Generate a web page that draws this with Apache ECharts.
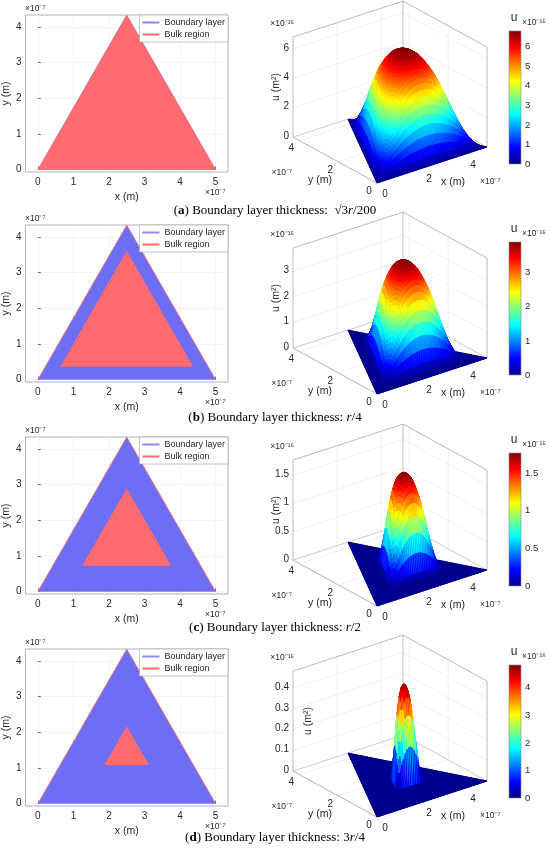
<!DOCTYPE html>
<html>
<head>
<meta charset="utf-8">
<script src="https://cdn.jsdelivr.net/npm/echarts@6.0.0/dist/echarts.min.js"></script>
<style>
html, body { margin: 0; padding: 0; background: #fff; }
#main { width: 550px; height: 852px; }
</style>
</head>
<body>
<div id="main"></div>
<script>
// all lengths in units of 1e-7 m, u in units of 1e-15 m^2
var outerTriangle = [[0, 0], [5, 0], [2.5, 4.33]];

// bulk region (inner triangle) for the four boundary layer thicknesses
var bulkA = [[0.02, 0.0125], [4.98, 0.0125], [2.5, 4.305]];
var bulkB = [[0.63, 0.36], [4.37, 0.36], [2.5, 3.61]];
var bulkC = [[1.25, 0.72], [3.75, 0.72], [2.5, 2.886]];
var bulkD = [[1.875, 1.08], [3.125, 1.08], [2.5, 2.165]];

// u read from the surfaces, from the bulk edge (level 0) to the centre (level 1), step 0.1
var profileA = [0, 0.6, 1.3, 2.05, 2.85, 3.65, 4.4, 5.1, 5.7, 6.3, 6.8];
var profileB = [0, 0.34, 0.74, 1.17, 1.64, 2.1, 2.54, 2.93, 3.28, 3.63, 3.9];
var profileC = [0, 0.16, 0.34, 0.53, 0.74, 0.96, 1.15, 1.33, 1.49, 1.65, 1.77];
var profileD = [0, 0.043, 0.092, 0.145, 0.203, 0.261, 0.314, 0.362, 0.406, 0.449, 0.483];

// axis ticks
var ticks2dX = [0, 1, 2, 3, 4, 5];
var ticks2dY = [0, 1, 2, 3, 4];
var ticks3dXY = [0, 2, 4];
var zTicksA = [0, 2, 4, 6];
var zTicksB = [0, 1, 2, 3];
var zTicksC = [0, 0.5, 1, 1.5];
var zTicksD = [0, 0.1, 0.2, 0.3, 0.4];
var cbTicksA = [0, 1, 2, 3, 4, 5, 6];
var cbTicksB = [0, 1, 2, 3];
var cbTicksC = [0, 0.5, 1, 1.5];
var cbTicksD = [0, 1, 2, 3, 4];
var zTops = [6.8, 3.9, 1.77, 0.483];
var cbScale = [1, 1, 1, 10];
var cbExp = ['×10⁻¹⁵', '×10⁻¹⁵', '×10⁻¹⁵', '×10⁻¹⁶'];

var captions = [
    '({b|a}) Boundary layer thickness:  √3{i|r}/200',
    '({b|b}) Boundary layer thickness: {i|r}/4',
    '({b|c}) Boundary layer thickness: {i|r}/2',
    '({b|d}) Boundary layer thickness: 3{i|r}/4'
];

var bulks = [bulkA, bulkB, bulkC, bulkD];
var profiles = [profileA, profileB, profileC, profileD];
var zTicks = [zTicksA, zTicksB, zTicksC, zTicksD];
var cbTicks = [cbTicksA, cbTicksB, cbTicksC, cbTicksD];

// layout of the four rows
var rowTop2d = [15, 225, 437, 649];
var rowH2d = 157;
var originY = [183, 394, 606, 817];
var cbTop = [31, 242, 453, 665];
var cbH = 133;
var captionY = [211, 418, 628, 838];
var zNameDx = [-17, -17, -17, 15];

var X_MAX = 5, Y_MAX = 4.33;
var jet = ['#00008f', '#0000ff', '#0080ff', '#00ffff', '#80ff80', '#ffff00', '#ff8000', '#ff0000', '#800000'];
var FONT = "'Liberation Sans', Arial, sans-serif";
var TXT = '#262626';

// fixed view (az ~ -45, el ~ 30): ground point + normalised height -> plane of the hidden grid
function project(x, y, zn) {
    return [22 * x - 19.4 * y, 7.2 * x + 10.6 * y + 100 * zn];
}

function flat(tri) {
    return [tri[0][0], tri[0][1], tri[1][0], tri[1][1], tri[2][0], tri[2][1]];
}

// 0 on the bulk edge, 1 at its centroid
function levelAt(px, py, tri) {
    var a = tri[0], b = tri[1], c = tri[2];
    var det = (b[1] - c[1]) * (a[0] - c[0]) + (c[0] - b[0]) * (a[1] - c[1]);
    var l1 = ((b[1] - c[1]) * (px - c[0]) + (c[0] - b[0]) * (py - c[1])) / det;
    var l2 = ((c[1] - a[1]) * (px - c[0]) + (a[0] - c[0]) * (py - c[1])) / det;
    var l3 = 1 - l1 - l2;
    if (l1 <= 0 || l2 <= 0 || l3 <= 0) return 0;
    return Math.min(1, 27 * l1 * l2 * l3);
}

function lookup(profile, s) {
    var f = s * (profile.length - 1);
    var i = Math.min(Math.floor(f), profile.length - 2);
    var t = f - i;
    return profile[i] * (1 - t) + profile[i + 1] * t;
}

// mesh of the triangle, each cell [x1,y1,u1,x2,y2,u2,x3,y3,u3,uMean], far cells first
function buildSurface(bulk, profile, n) {
    var A = outerTriangle[0], B = outerTriangle[1], C = outerTriangle[2];
    function vert(i, j) {
        var x = A[0] + i / n * (B[0] - A[0]) + j / n * (C[0] - A[0]);
        var y = A[1] + i / n * (B[1] - A[1]) + j / n * (C[1] - A[1]);
        return [x, y, lookup(profile, levelAt(x, y, bulk))];
    }
    var cells = [];
    function add(p, q, r) {
        cells.push([p[0], p[1], p[2], q[0], q[1], q[2], r[0], r[1], r[2], (p[2] + q[2] + r[2]) / 3]);
    }
    for (var i = 0; i < n; i++) {
        for (var j = 0; j < n - i; j++) {
            add(vert(i, j), vert(i + 1, j), vert(i, j + 1));
            if (i + j < n - 1) add(vert(i + 1, j), vert(i + 1, j + 1), vert(i, j + 1));
        }
    }
    cells.sort(function (a, b) {
        var da = 19.4 * (a[0] + a[3] + a[6]) + 22 * (a[1] + a[4] + a[7]);
        var db = 19.4 * (b[0] + b[3] + b[6]) + 22 * (b[1] + b[4] + b[7]);
        return db - da;
    });
    return cells;
}

function renderTri(fill, stroke) {
    return function (params, api) {
        var pts = [0, 1, 2].map(function (k) {
            return api.coord([api.value(2 * k), api.value(2 * k + 1)]);
        });
        return {type: 'polygon', shape: {points: pts}, style: {fill: fill, stroke: stroke, lineWidth: 0.8}, silent: true};
    };
}

function renderSurface(p) {
    return function (params, api) {
        var pts = [];
        for (var k = 0; k < 3; k++) {
            pts.push(api.coord(project(api.value(3 * k), api.value(3 * k + 1), api.value(3 * k + 2) / zTops[p])));
        }
        var c = api.visual('color');
        // far cells come first in the data, keep them underneath
        return {
            type: 'polygon', z2: params.dataIndex, shape: {points: pts}, silent: true,
            style: {fill: c, stroke: c, lineWidth: 1, lineJoin: 'round'}
        };
    };
}

function renderFrame(p) {
    return function (params, api) {
        var zTop = zTops[p];
        function P(x, y, z) { return api.coord(project(x, y, z / zTop)); }
        function seg(a, b, color, w) {
            return {type: 'line', shape: {x1: a[0], y1: a[1], x2: b[0], y2: b[1]}, style: {stroke: color, lineWidth: w}, silent: true};
        }
        function txt(pt, dx, dy, s, align, size, rot) {
            return {
                type: 'text', x: pt[0] + dx, y: pt[1] + dy, rotation: rot || 0, silent: true,
                style: {text: s, fill: TXT, fontSize: size || 10, fontFamily: FONT, align: align || 'center', verticalAlign: 'middle'}
            };
        }
        var kids = [];
        var gc = '#e6e6e6', bc = '#a8a8a8';
        ticks3dXY.forEach(function (t) {
            if (t > 0) {
                kids.push(seg(P(t, Y_MAX, 0), P(t, Y_MAX, zTop), gc, 0.6));
                kids.push(seg(P(X_MAX, t, 0), P(X_MAX, t, zTop), gc, 0.6));
            }
            kids.push(seg(P(t, 0, 0), P(t, Y_MAX, 0), gc, 0.6));
            kids.push(seg(P(0, t, 0), P(X_MAX, t, 0), gc, 0.6));
        });
        zTicks[p].forEach(function (z) {
            if (z > 0) {
                kids.push(seg(P(0, Y_MAX, z), P(X_MAX, Y_MAX, z), gc, 0.6));
                kids.push(seg(P(X_MAX, 0, z), P(X_MAX, Y_MAX, z), gc, 0.6));
            }
        });
        // box
        kids.push(seg(P(0, Y_MAX, 0), P(0, Y_MAX, zTop), bc, 0.8));
        kids.push(seg(P(X_MAX, Y_MAX, 0), P(X_MAX, Y_MAX, zTop), bc, 0.8));
        kids.push(seg(P(X_MAX, 0, 0), P(X_MAX, 0, zTop), bc, 0.8));
        kids.push(seg(P(0, Y_MAX, zTop), P(X_MAX, Y_MAX, zTop), bc, 0.8));
        kids.push(seg(P(X_MAX, Y_MAX, zTop), P(X_MAX, 0, zTop), bc, 0.8));
        kids.push(seg(P(0, Y_MAX, 0), P(X_MAX, Y_MAX, 0), bc, 0.6));
        kids.push(seg(P(X_MAX, Y_MAX, 0), P(X_MAX, 0, 0), bc, 0.6));
        kids.push(seg(P(0, 0, 0), P(X_MAX, 0, 0), bc, 0.8));
        kids.push(seg(P(0, 0, 0), P(0, Y_MAX, 0), bc, 0.8));
        // tick labels
        ticks3dXY.forEach(function (t) {
            kids.push(txt(P(t, 0, 0), 8, 11, String(t)));
            kids.push(txt(P(0, t, 0), -8, 8, String(t)));
        });
        zTicks[p].forEach(function (z) {
            kids.push(txt(P(0, Y_MAX, z), -4, -1, String(z), 'right'));
        });
        var o = P(0, 0, 0);
        kids.push(txt(o, 76, -1, 'x (m)', 'center', 10.5));
        kids.push(txt(o, -57, -3, 'y (m)', 'center', 10.5));
        kids.push(txt(o, 103, -1, '×10⁻⁷', 'left', 8.5));
        kids.push(txt(o, -85, -10, '×10⁻⁷', 'right', 8.5));
        kids.push(txt(P(0, Y_MAX, zTop), 1, -13, '×10⁻¹⁵', 'right', 8.5));
        kids.push(txt(P(0, Y_MAX, zTop / 2), zNameDx[p], 0, 'u (m²)', 'center', 10.5, Math.PI / 2));
        return {type: 'group', children: kids};
    };
}

function renderColorbar(params, api) {
    var a = api.coord([0, 0]);
    var b = api.coord([1, api.value(1)]);
    var stops = jet.map(function (c, i) { return {offset: i / (jet.length - 1), color: c}; });
    return {
        type: 'rect', silent: true,
        shape: {x: a[0], y: b[1], width: b[0] - a[0], height: a[1] - b[1]},
        style: {fill: new echarts.graphic.LinearGradient(0, 1, 0, 0, stops), stroke: '#8c8c8c', lineWidth: 0.6}
    };
}

var grids = [], xAxes = [], yAxes = [], series = [], visualMaps = [], legends = [], graphics = [];

for (var p = 0; p < 4; p++) {
    var g2 = grids.length;
    // 2D domain plot
    grids.push({left: 23.5, top: rowTop2d[p], width: 204.5, height: rowH2d, show: true, borderColor: '#a0a0a0', borderWidth: 0.8, backgroundColor: '#fff'});
    xAxes.push({
        gridIndex: g2, type: 'value', min: -0.35, max: 5.35,
        axisLine: {show: false},
        axisTick: {show: true, inside: true, length: 3, customValues: ticks2dX, lineStyle: {color: '#777'}},
        axisLabel: {customValues: ticks2dX, color: TXT, fontSize: 10, fontFamily: FONT, margin: 5},
        splitLine: {show: true, lineStyle: {color: '#ececec', width: 0.6}},
        name: 'x (m)', nameLocation: 'middle', nameGap: 20,
        nameTextStyle: {color: TXT, fontSize: 10.5, fontFamily: FONT}
    });
    yAxes.push({
        gridIndex: g2, type: 'value', min: -0.07, max: 4.33,
        axisLine: {show: false},
        axisTick: {show: true, inside: true, length: 3, customValues: ticks2dY, lineStyle: {color: '#777'}},
        axisLabel: {customValues: ticks2dY, color: TXT, fontSize: 10, fontFamily: FONT, margin: 4},
        splitLine: {show: true, lineStyle: {color: '#ececec', width: 0.6}},
        name: 'y (m)', nameLocation: 'middle', nameGap: 12,
        nameTextStyle: {color: TXT, fontSize: 10.5, fontFamily: FONT}
    });
    series.push({
        name: 'Boundary layer', type: 'custom', coordinateSystem: 'cartesian2d', xAxisIndex: g2, yAxisIndex: g2,
        itemStyle: {color: '#8a8af7'}, data: [flat(outerTriangle)], renderItem: renderTri('#6e6ef4', '#ff6b6b'), z: 2
    });
    series.push({
        name: 'Bulk region', type: 'custom', coordinateSystem: 'cartesian2d', xAxisIndex: g2, yAxisIndex: g2,
        itemStyle: {color: '#ff6b6b'}, data: [flat(bulks[p])], renderItem: renderTri('#ff6b6e', 'rgba(0,0,0,0)'), z: 3
    });
    legends.push({
        right: 322, top: rowTop2d[p], orient: 'vertical', data: ['Boundary layer', 'Bulk region'],
        icon: 'rect', itemWidth: 17, itemHeight: 2, itemGap: 3,
        textStyle: {color: TXT, fontSize: 9, fontFamily: FONT},
        backgroundColor: '#fff', borderColor: '#a0a0a0', borderWidth: 0.6, borderRadius: 0,
        padding: [3, 3, 3, 3], selectedMode: false
    });
    graphics.push({type: 'text', x: 25, y: rowTop2d[p] - 6, style: {text: '×10⁻⁷', fill: TXT, fontSize: 8.5, fontFamily: FONT, verticalAlign: 'middle'}});
    graphics.push({type: 'text', x: 205, y: rowTop2d[p] + rowH2d + 21, style: {text: '×10⁻⁷', fill: TXT, fontSize: 8.5, fontFamily: FONT, verticalAlign: 'middle'}});

    // 3D surface on a hidden plane
    var g3 = grids.length;
    grids.push({left: 293, top: originY[p] - 181.9, width: 194, height: 181.9});
    xAxes.push({gridIndex: g3, type: 'value', min: -84, max: 110, show: false});
    yAxes.push({gridIndex: g3, type: 'value', min: 0, max: 181.9, show: false});
    series.push({
        name: 'frame' + p, type: 'custom', coordinateSystem: 'cartesian2d', xAxisIndex: g3, yAxisIndex: g3,
        data: [[0, 0]], renderItem: renderFrame(p), z: 1
    });
    visualMaps.push({
        type: 'continuous', show: false, seriesIndex: series.length, dimension: 9,
        min: 0, max: zTops[p], inRange: {color: jet}
    });
    series.push({
        name: 'u' + p, type: 'custom', coordinateSystem: 'cartesian2d', xAxisIndex: g3, yAxisIndex: g3,
        data: buildSurface(bulks[p], profiles[p], 64), renderItem: renderSurface(p), z: 2, progressive: 0
    });

    // colorbar
    var gc = grids.length;
    grids.push({left: 509, top: cbTop[p], width: 12, height: cbH});
    xAxes.push({gridIndex: gc, type: 'value', min: 0, max: 1, show: false});
    yAxes.push({
        gridIndex: gc, type: 'value', min: 0, max: zTops[p] * cbScale[p], position: 'right',
        axisLine: {show: false}, splitLine: {show: false},
        axisTick: {show: false, customValues: cbTicks[p]},
        axisLabel: {customValues: cbTicks[p], color: TXT, fontSize: 9.5, fontFamily: FONT, margin: 4}
    });
    series.push({
        name: 'cb' + p, type: 'custom', coordinateSystem: 'cartesian2d', xAxisIndex: gc, yAxisIndex: gc,
        data: [[0, zTops[p] * cbScale[p]]], renderItem: renderColorbar
    });
    graphics.push({type: 'text', x: 514, y: cbTop[p] - 13, style: {text: 'u', fill: TXT, fontSize: 12, fontFamily: FONT, align: 'center', verticalAlign: 'middle'}});
    graphics.push({type: 'text', x: 522, y: cbTop[p] - 8, style: {text: cbExp[p], fill: TXT, fontSize: 8.5, fontFamily: FONT, verticalAlign: 'middle'}});

    // caption
    graphics.push({
        type: 'text', x: 275, y: captionY[p],
        style: {
            text: captions[p], fill: '#000', fontSize: 13, fontFamily: "'Liberation Serif', serif",
            align: 'center', verticalAlign: 'middle',
            rich: {
                b: {fontWeight: 'bold', fontSize: 13, fontFamily: "'Liberation Serif', serif"},
                i: {fontStyle: 'italic', fontSize: 13, fontFamily: "'Liberation Serif', serif"}
            }
        }
    });
}

var chart = echarts.init(document.getElementById('main'));
chart.setOption({
    animation: false,
    backgroundColor: '#fff',
    grid: grids,
    xAxis: xAxes,
    yAxis: yAxes,
    legend: legends,
    visualMap: visualMaps,
    graphic: graphics,
    series: series
});
</script>
</body>
</html>
